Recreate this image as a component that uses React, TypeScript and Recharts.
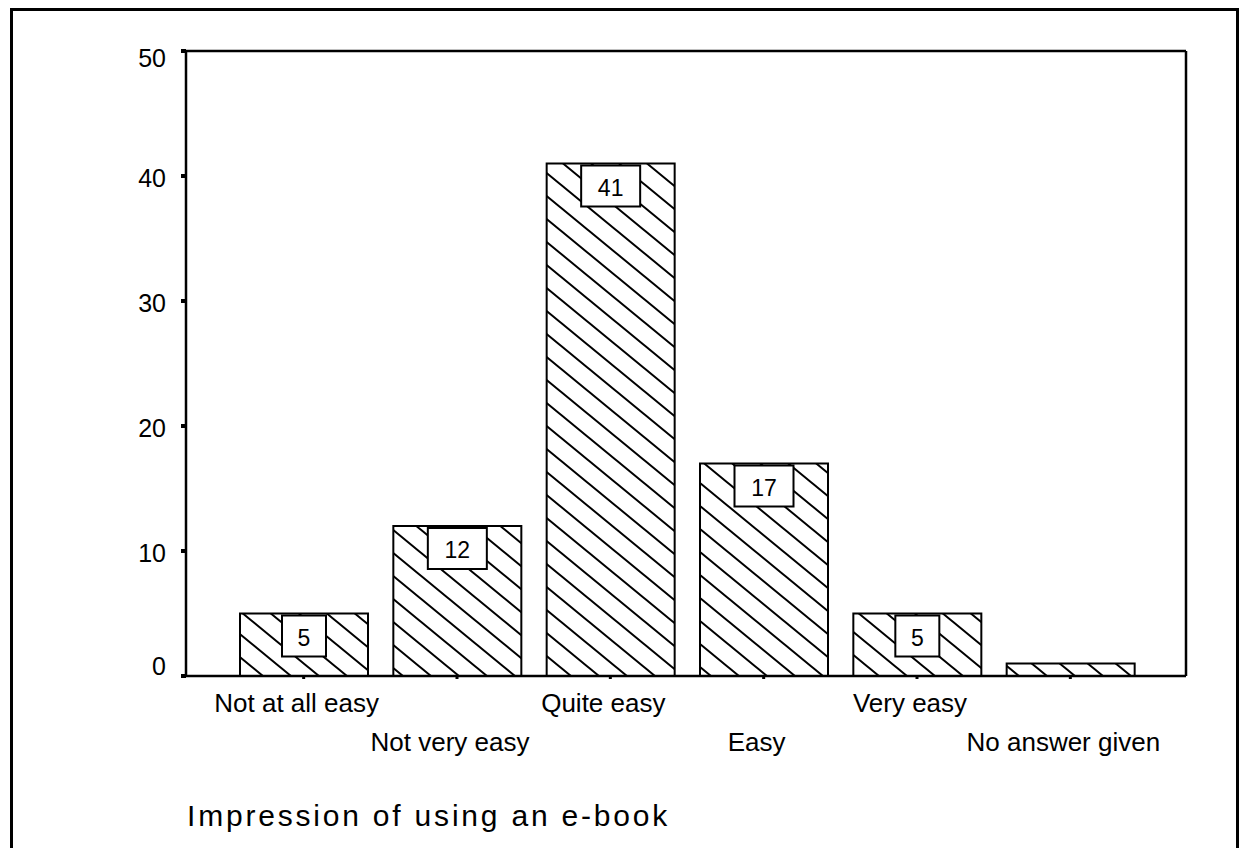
import { Bar, BarChart, CartesianGrid, LabelList, XAxis, YAxis } from 'recharts';

const categories = ['Not at all easy', 'Not very easy', 'Quite easy', 'Easy', 'Very easy', 'No answer given'];
const counts = [5, 12, 41, 17, 5, 1];
const yTicks = [0, 10, 20, 30, 40, 50];

const data = categories.map((name, i) => ({ name, count: counts[i] }));

const FONT = 'Arial, "Liberation Sans", sans-serif';

// category names alternate between two rows so they don't collide
function CategoryTick(props: any) {
  const { x, y, payload, index } = props;
  return (
    <text
      x={x - 7}
      y={y + (index % 2 === 0 ? 24 : 63)}
      textAnchor='middle'
      dominantBaseline='central'
      fontFamily={FONT}
      fontSize={26}
      fill='#000'
    >
      {payload.value}
    </text>
  );
}

function CountTick(props: any) {
  const { x, y, payload } = props;
  const shift = payload.value === 0 ? -10 : payload.value === 50 ? 7 : 2;
  return (
    <text x={x} y={y + shift} textAnchor='end' dominantBaseline='central' fontFamily={FONT} fontSize={25} fill='#000'>
      {payload.value}
    </text>
  );
}

// boxed value sitting just under the top of each bar
function ValueBox(props: any) {
  const { x, y, width, value } = props;
  if (value < 2) return null;
  const w = String(value).length > 1 ? 59 : 44;
  const cx = x + width / 2;
  const top = y + 2;
  return (
    <g>
      <rect x={cx - w / 2} y={top} width={w} height={41} fill='#fff' stroke='#000' strokeWidth={2} />
      <text x={cx} y={top + 22} textAnchor='middle' dominantBaseline='central' fontFamily={FONT} fontSize={23} fill='#000'>
        {value}
      </text>
    </g>
  );
}

export default function App() {
  return (
    <div style={{ position: 'absolute', left: 0, top: 0, width: 1241, height: 848, overflow: 'hidden', background: '#fff' }}>
      <div
        style={{
          position: 'absolute',
          left: 10,
          top: 8,
          width: 1223,
          height: 900,
          border: '3px solid #000',
        }}
      />
      <BarChart width={1241} height={848} data={data} margin={{ top: 51, right: 55, bottom: 0, left: 0 }} style={{ position: 'absolute', left: 0, top: 0 }}>
        <defs>
          <pattern id='hatch' patternUnits='userSpaceOnUse' width={28} height={23}>
            <path d='M-28,-23 L56,46 M0,-23 L56,23 M-28,0 L28,46' stroke='#000' strokeWidth={2} />
          </pattern>
        </defs>
        {/* top and right edges of the plot box */}
        <CartesianGrid
          stroke='#000'
          strokeWidth={2.5}
          fill='none'
          horizontalCoordinatesGenerator={({ offset }: any) => [offset.top]}
          verticalCoordinatesGenerator={({ offset }: any) => [offset.left + offset.width]}
        />
        <XAxis
          dataKey='name'
          height={172}
          padding={{ left: 41, right: 39 }}
          axisLine={{ stroke: '#000', strokeWidth: 2.5 }}
          tickLine={{ stroke: '#000', strokeWidth: 3 }}
          tickSize={3}
          tickMargin={0}
          interval={0}
          tick={<CategoryTick />}
        />
        <YAxis
          width={186}
          domain={[0, 50]}
          ticks={yTicks}
          axisLine={{ stroke: '#000', strokeWidth: 2.5 }}
          tickLine={{ stroke: '#000', strokeWidth: 4 }}
          tickSize={5}
          tickMargin={15}
          tick={<CountTick />}
        />
        <Bar dataKey='count' fill='url(#hatch)' stroke='#000' strokeWidth={2} barSize={128} isAnimationActive={false}>
          <LabelList dataKey='count' content={<ValueBox />} />
        </Bar>
        <text x={187} y={815} dominantBaseline='central' fontFamily={FONT} fontSize={30} letterSpacing={2.8} fill='#000'>
          Impression of using an e-book
        </text>
      </BarChart>
    </div>
  );
}
